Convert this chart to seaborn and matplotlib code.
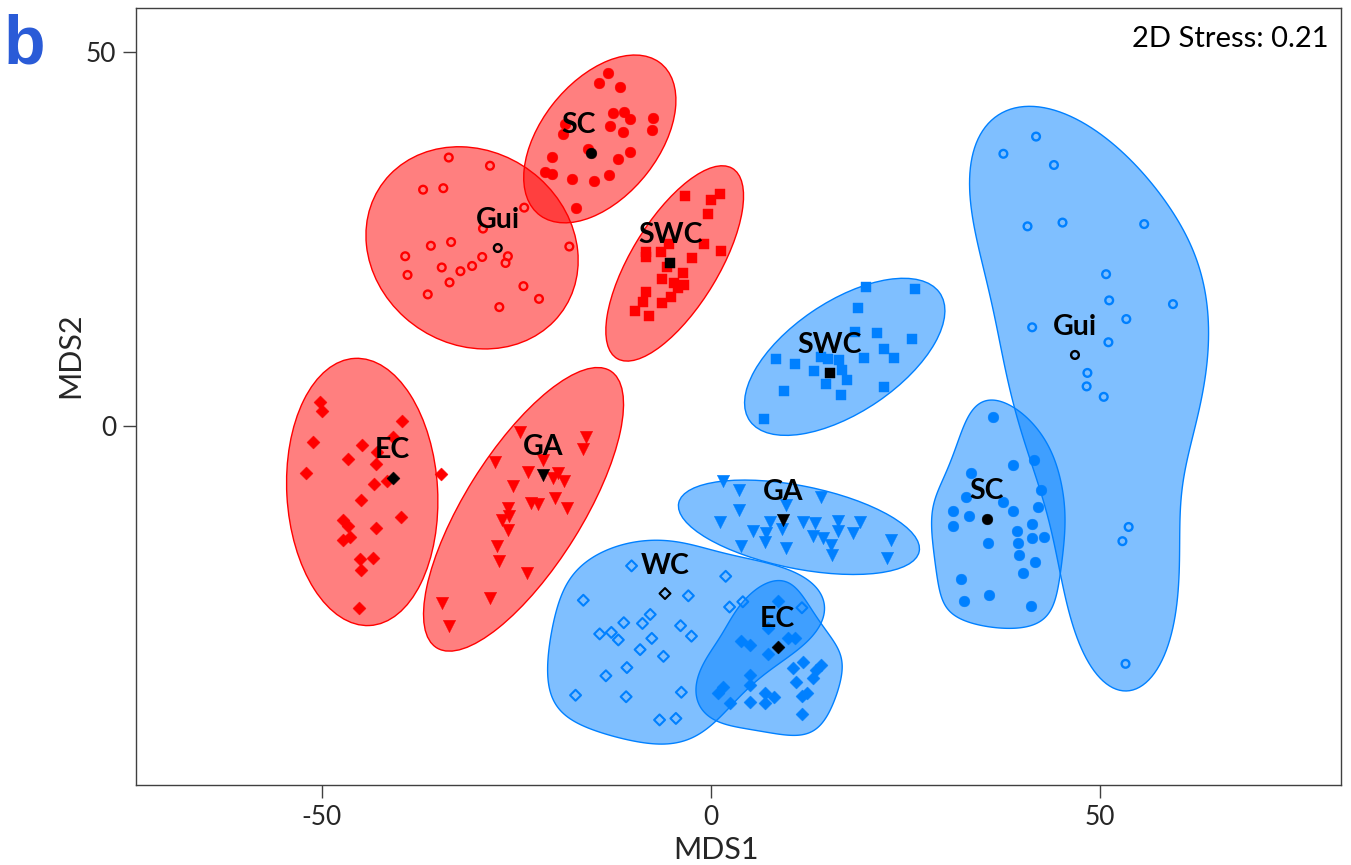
import numpy as np
import pandas as pd
import matplotlib
matplotlib.use("Agg")
import matplotlib.pyplot as plt
import seaborn as sns
from matplotlib.patches import Ellipse, Polygon

sns.set_style("ticks")
plt.rcParams['font.family'] = ['Lato', 'DejaVu Sans']
plt.rcParams['axes.unicode_minus'] = False

# ------------------- data -------------------

# red group
red_gui_x = [-33.7, -28.4, -37.0, -34.4, -24.0, -29.3, -33.4, -36.0, -39.3, -18.2, -29.4,
             -26.1, -26.4, -34.6, -30.7, -32.2, -39.0, -33.6, -24.1, -36.4, -22.1, -27.2]
red_gui_y = [35.9, 34.8, 31.6, 31.8, 29.2, 26.4, 24.6, 24.1, 22.7, 24.0, 22.6,
             22.7, 21.8, 21.2, 21.4, 20.7, 20.2, 19.2, 18.7, 17.6, 17.0, 15.9]

red_sc_x = [-13.2, -14.4, -11.7, -12.6, -11.2, -10.4, -7.5, -7.6, -18.7, -19.0, -13.0,
            -11.3, -15.8, -20.4, -12.0, -10.4, -21.3, -20.4, -17.8, -15.0, -13.1, -17.4]
red_sc_y = [47.2, 45.9, 45.3, 41.8, 42.0, 41.1, 41.2, 39.6, 40.4, 39.0, 40.1,
            39.3, 37.0, 36.0, 35.7, 36.7, 33.9, 33.7, 33.0, 32.8, 33.6, 29.2]

red_swc_x = [-3.3, 0.0, 1.2, -0.4, -0.9, 1.3, -8.3, -6.4, -5.4, -2.4, -8.3, -5.7,
             -3.6, -6.3, -4.8, -3.5, -4.2, -5.1, -8.4, -8.7, -6.3, -9.7, -7.9]
red_swc_y = [30.7, 30.2, 31.0, 28.4, 24.3, 23.4, 23.3, 23.3, 24.3, 22.4, 22.6, 21.2,
             20.5, 19.6, 19.1, 18.9, 18.4, 17.3, 17.9, 16.6, 16.5, 15.4, 14.7]

red_ec_x = [-50.2, -50.0, -39.7, -51.1, -44.9, -40.9, -42.9, -46.7, -43.1, -52.1, -34.7, -41.7,
            -43.3, -45.0, -39.9, -47.3, -46.7, -43.0, -46.4, -47.3, -45.1, -43.5, -45.0, -45.3]
red_ec_y = [3.2, 2.0, 0.7, -2.1, -2.5, -1.5, -3.5, -4.4, -5.1, -6.3, -6.4, -7.3,
            -7.7, -9.9, -12.1, -12.6, -13.4, -13.6, -14.8, -15.3, -17.8, -17.6, -19.3, -24.3]

red_ga_x = [-24.6, -16.0, -16.4, -21.6, -27.8, -23.5, -19.7, -20.3, -18.9, -25.4, -20.1, -23.1,
            -22.2, -18.5, -26.1, -25.9, -26.8, -26.1, -27.5, -27.3, -23.6, -28.4, -34.6, -33.7]
red_ga_y = [-0.8, -1.5, -3.1, -4.5, -4.8, -6.2, -6.3, -7.0, -7.4, -8.0, -9.6, -10.3,
            -10.4, -10.9, -11.0, -12.0, -12.6, -13.9, -16.1, -18.1, -19.6, -23.0, -23.6, -26.7]

# blue group
blue_swc_x = [19.9, 26.2, 18.9, 21.3, 25.8, 18.5, 22.2, 23.6, 19.7, 8.4, 10.8,
              14.2, 15.1, 16.5, 13.2, 16.8, 17.5, 14.8, 9.4, 16.7, 22.2, 6.8]
blue_swc_y = [18.6, 18.3, 15.8, 12.4, 11.6, 12.6, 10.3, 9.1, 9.1, 8.9, 8.3,
              9.2, 8.9, 8.8, 7.3, 7.5, 6.1, 5.6, 4.7, 4.2, 5.2, 1.0]

blue_gui_x = [41.8, 37.6, 44.1, 40.7, 45.2, 55.7, 50.8, 51.2, 59.4,
              53.4, 41.3, 51.1, 48.4, 48.3, 50.5, 53.7, 52.9, 53.3]
blue_gui_y = [38.7, 36.4, 34.9, 26.7, 27.2, 27.0, 20.3, 16.8, 16.3,
              14.3, 13.2, 11.2, 7.1, 5.3, 3.9, -13.5, -15.4, -31.8]

blue_sc_x = [36.2, 38.8, 41.5, 33.4, 42.4, 32.8, 37.6, 38.8, 42.0, 31.1, 33.2, 31.1, 41.3,
             39.3, 41.3, 42.8, 39.5, 35.6, 39.6, 41.7, 40.1, 32.2, 35.7, 32.5, 41.2]
blue_sc_y = [1.2, -5.2, -4.5, -6.3, -8.6, -9.5, -10.1, -11.4, -10.8, -11.4, -12.0, -13.4, -13.1,
             -14.0, -15.0, -14.9, -15.7, -15.7, -17.3, -18.2, -19.6, -20.4, -22.6, -23.4, -24.1]

blue_ga_x = [1.5, 3.6, 14.1, 9.6, 3.6, 1.2, 7.6, 11.8, 13.4, 16.4, 19.2, 5.4, 7.1,
             9.1, 16.3, 18.3, 13.1, 14.4, 6.9, 15.4, 23.1, 3.9, 9.6, 15.6, 22.7]
blue_ga_y = [-7.3, -8.6, -9.5, -10.6, -11.2, -12.9, -12.8, -12.9, -13.0, -12.7, -12.8, -14.1, -14.3,
             -13.8, -14.0, -14.3, -14.7, -15.0, -15.5, -15.9, -15.3, -16.1, -16.3, -17.2, -17.7]

blue_wc_x = [-10.2, 1.9, -2.9, -16.4, 2.4, 4.1, 11.7, -7.8, -11.2, -8.8, -3.9, -14.3, -12.8,
             -11.9, -7.6, -2.5, -9.1, -6.1, -10.8, -13.5, -17.4, -10.9, -3.8, -6.6, -4.5]
blue_wc_y = [-18.7, -20.1, -22.7, -23.3, -24.2, -23.5, -24.3, -25.2, -26.3, -26.4, -26.7, -27.8, -27.6,
             -28.6, -28.4, -28.1, -29.9, -30.8, -32.3, -33.4, -36.0, -36.2, -35.6, -39.3, -39.1]

blue_ec_x = [8.6, 7.4, 9.9, 10.8, 3.9, 5.0, 7.4, 11.9, 10.6, 14.2, 13.5, 13.1, 5.0,
             11.0, 5.0, 1.5, 0.9, 12.3, 11.7, 6.9, 8.1, 5.0, 2.4, 6.9, 11.7]
blue_ec_y = [-23.4, -27.0, -28.4, -28.4, -28.8, -29.3, -30.5, -31.5, -32.3, -32.0, -32.6, -33.7, -33.3,
             -34.2, -34.6, -34.9, -35.7, -35.7, -36.1, -35.7, -36.3, -36.9, -37.1, -37.1, -38.5]

# group centroids (black markers)
red_sites = ['Gui', 'SC', 'SWC', 'EC', 'GA']
red_cent_x = [-27.4, -15.4, -5.2, -40.9, -21.6]
red_cent_y = [23.8, 36.5, 21.8, -7.0, -6.6]

blue_sites = ['SWC', 'Gui', 'SC', 'GA', 'WC', 'EC']
blue_cent_x = [15.3, 46.8, 35.5, 9.3, -5.9, 8.6]
blue_cent_y = [7.1, 9.5, -12.4, -12.6, -22.4, -29.6]

stress_text = "2D Stress: 0.21"

# ------------------- helpers -------------------

RED = "#FF0000"
BLUE = "#0080FF"

# marker: (symbol, filled, size, linewidth)
MARKERS = {
    'Gui': ('o', False, 31, 1.7),
    'SC': ('o', True, 60, 0),
    'SWC': ('s', True, 62, 0),
    'EC': ('D', True, 44, 0),
    'GA': ('v', True, 80, 0),
    'WC': ('D', False, 31, 1.5),
}


def conf_ellipse(x, y, k, color):
    cov = np.cov(x, y)
    vals, vecs = np.linalg.eigh(cov)
    order = vals.argsort()[::-1]
    vals, vecs = vals[order], vecs[:, order]
    angle = np.degrees(np.arctan2(vecs[1, 0], vecs[0, 0]))
    w, h = 2 * k * np.sqrt(vals)
    return Ellipse((np.mean(x), np.mean(y)), w, h, angle=angle,
                   facecolor=matplotlib.colors.to_rgba(color, 0.5),
                   edgecolor=color, linewidth=1.0, zorder=1)


def convex_hull(pts):
    pts = sorted(set(pts))

    def cross(o, a, b):
        return (a[0] - o[0]) * (b[1] - o[1]) - (a[1] - o[1]) * (b[0] - o[0])

    lower, upper = [], []
    for p in pts:
        while len(lower) >= 2 and cross(lower[-2], lower[-1], p) <= 0:
            lower.pop()
        lower.append(p)
    for p in reversed(pts):
        while len(upper) >= 2 and cross(upper[-2], upper[-1], p) <= 0:
            upper.pop()
        upper.append(p)
    return np.array(lower[:-1] + upper[:-1])


def smooth_closed(verts, n_harm=5, n=256):
    # resample the outline by arc length, then keep only low harmonics
    v = np.vstack([verts, verts[:1]])
    seg = np.hypot(*np.diff(v, axis=0).T)
    s = np.concatenate([[0], np.cumsum(seg)])
    t = np.linspace(0, s[-1], n, endpoint=False)
    z = np.interp(t, s, v[:, 0]) + 1j * np.interp(t, s, v[:, 1])
    F = np.fft.fft(z)
    F[n_harm + 1:n - n_harm] = 0
    zs = np.fft.ifft(F)
    return np.column_stack([zs.real, zs.imag])


def blob(x, y, pad, color):
    t = np.linspace(0, 2 * np.pi, 60, endpoint=False)
    pts = [(xi + pad * np.cos(a), yi + pad * np.sin(a)) for xi, yi in zip(x, y) for a in t]
    verts = smooth_closed(convex_hull(pts))
    return Polygon(verts, closed=True,
                   facecolor=matplotlib.colors.to_rgba(color, 0.5),
                   edgecolor=color, linewidth=1.0, zorder=1)


# ------------------- table -------------------

groups = [
    ('red', 'Gui', red_gui_x, red_gui_y, ('ellipse', 2.4)),
    ('red', 'SC', red_sc_x, red_sc_y, ('ellipse', 2.4)),
    ('red', 'SWC', red_swc_x, red_swc_y, ('ellipse', 2.7)),
    ('red', 'EC', red_ec_x, red_ec_y, ('ellipse', 2.45)),
    ('red', 'GA', red_ga_x, red_ga_y, ('ellipse', 2.7)),
    ('blue', 'SWC', blue_swc_x, blue_swc_y, ('ellipse', 2.4)),
    ('blue', 'Gui', blue_gui_x, blue_gui_y, ('blob', 4.8)),
    ('blue', 'SC', blue_sc_x, blue_sc_y, ('blob', 2.8)),
    ('blue', 'GA', blue_ga_x, blue_ga_y, ('ellipse', 2.45)),
    ('blue', 'WC', blue_wc_x, blue_wc_y, ('blob', 3.5)),
    ('blue', 'EC', blue_ec_x, blue_ec_y, ('blob', 3.0)),
]

df = pd.concat([pd.DataFrame({'MDS1': gx, 'MDS2': gy, 'region': reg, 'site': site})
                for reg, site, gx, gy, _ in groups], ignore_index=True)

cent = pd.concat([
    pd.DataFrame({'MDS1': red_cent_x, 'MDS2': red_cent_y, 'region': 'red', 'site': red_sites}),
    pd.DataFrame({'MDS1': blue_cent_x, 'MDS2': blue_cent_y, 'region': 'blue', 'site': blue_sites}),
], ignore_index=True)

# ------------------- plot -------------------

fig, ax = plt.subplots(figsize=(13.51, 8.65), dpi=100)
fig.subplots_adjust(left=0.1007, right=0.9926, top=0.9908, bottom=0.0925)

for reg, site, gx, gy, (kind, par) in groups:
    col = RED if reg == 'red' else BLUE
    if kind == 'ellipse':
        ax.add_patch(conf_ellipse(np.array(gx), np.array(gy), par, col))
    else:
        ax.add_patch(blob(gx, gy, par, col))

for reg, site, gx, gy, _ in groups:
    col = RED if reg == 'red' else BLUE
    sub = df[(df.region == reg) & (df.site == site)]
    m, filled, s, lw = MARKERS[site]
    if filled:
        sns.scatterplot(data=sub, x='MDS1', y='MDS2', marker=m, s=s, color=col,
                        edgecolor=col, linewidth=0.3, legend=False, ax=ax, zorder=3)
    else:
        sns.scatterplot(data=sub, x='MDS1', y='MDS2', marker=m, s=s, facecolor='none',
                        edgecolor=col, linewidth=lw, legend=False, ax=ax, zorder=3)

for i, row in cent.iterrows():
    m, filled, s, lw = MARKERS[row.site]
    one = cent.loc[[i]]
    if filled:
        sns.scatterplot(data=one, x='MDS1', y='MDS2', marker=m, s=s, color='black',
                        edgecolor='black', linewidth=0.3, legend=False, ax=ax, zorder=4)
    else:
        sns.scatterplot(data=one, x='MDS1', y='MDS2', marker=m, s=s, facecolor='none',
                        edgecolor='black', linewidth=lw, legend=False, ax=ax, zorder=4)
    dx = -13 if (row.region == 'red' and row.site == 'SC') else 0
    ax.annotate(row.site, (row.MDS1, row.MDS2), xytext=(dx, 20), textcoords='offset pixels',
                ha='center', va='baseline', fontsize=20.5, fontweight='bold', color='black', zorder=5)

ax.set_xlim(-73.9, 81.0)
ax.set_ylim(-48.0, 55.9)
ax.set_xticks([-50, 0, 50])
ax.set_yticks([0, 50])
ax.tick_params(axis='both', which='major', length=9.4, width=1.0, color='#404040',
               labelsize=19, pad=5)
for sp in ax.spines.values():
    sp.set_visible(True)
    sp.set_color('#404040')
    sp.set_linewidth(1.0)

ax.set_xlabel("MDS1", fontsize=22)
ax.set_ylabel("MDS2", fontsize=22)
ax.xaxis.label.set_va('baseline')
ax.xaxis.set_label_coords(0.4813, -0.0956)
ax.yaxis.label.set_va('baseline')
ax.yaxis.set_label_coords(-0.0473, 0.5534)

ax.text(0.990, 0.950, stress_text, transform=ax.transAxes, ha='right', va='baseline',
        fontsize=21, color='black')

fig.text(4 / 1351, 1 - 63 / 865, "b", fontsize=49, fontweight='bold', color='#2A5BD7',
         family=['Liberation Sans', 'DejaVu Sans'], ha='left', va='baseline')

fig.savefig("out.png", dpi=100)
plt.close(fig)
